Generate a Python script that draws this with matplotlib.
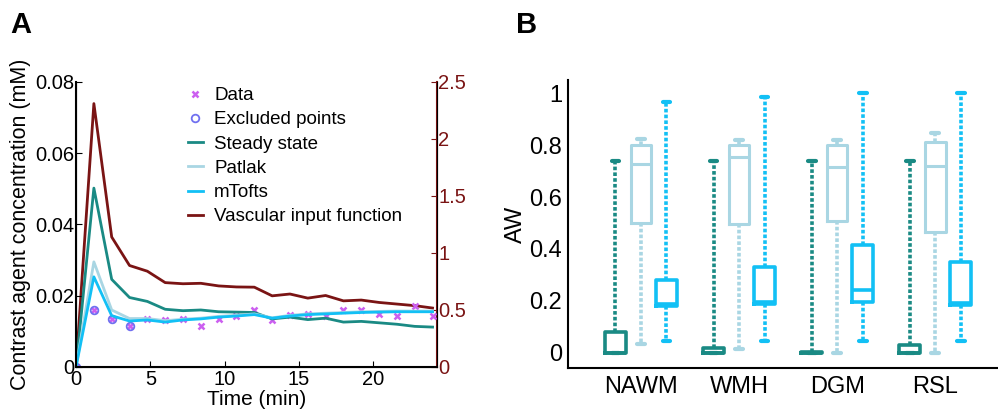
import matplotlib.pyplot as plt

plt.rcParams['font.family'] = ['Liberation Sans', 'DejaVu Sans']

# ---- panel A data ----
time = [0, 1.2, 2.4, 3.6, 4.8, 6.0, 7.2, 8.4, 9.6, 10.8, 12.0,
        13.2, 14.4, 15.6, 16.8, 18.0, 19.2, 20.4, 21.6, 22.8, 24.0]
data = [0, 0.0161, 0.0134, 0.0114, 0.0135, 0.0131, 0.0135, 0.0114, 0.0135, 0.0142, 0.0161,
        0.0132, 0.0147, 0.0150, 0.0142, 0.0161, 0.0161, 0.0149, 0.0142, 0.0172, 0.0142]
excl_time = [0, 1.2, 2.4, 3.6]
excl_vals = [0, 0.0161, 0.0134, 0.0114]
steady = [0, 0.0502, 0.0246, 0.0195, 0.0184, 0.0162, 0.0158, 0.0160, 0.0155, 0.0154, 0.0153,
          0.0135, 0.0140, 0.0133, 0.0137, 0.0126, 0.0128, 0.0124, 0.0120, 0.0114, 0.0112]
patlak = [0, 0.0295, 0.0160, 0.0136, 0.0136, 0.0130, 0.0134, 0.0137, 0.0142, 0.0145, 0.0149,
          0.0138, 0.0145, 0.0149, 0.0151, 0.0153, 0.0155, 0.0156, 0.0157, 0.0157, 0.0157]
mtofts = [0, 0.0253, 0.0144, 0.0129, 0.0132, 0.0126, 0.0132, 0.0135, 0.0140, 0.0143, 0.0147,
          0.0137, 0.0143, 0.0147, 0.0149, 0.0151, 0.0153, 0.0154, 0.0155, 0.0155, 0.0155]
vif = [0, 2.31, 1.14, 0.89, 0.84, 0.74, 0.73, 0.734, 0.711, 0.702, 0.70,
       0.624, 0.64, 0.604, 0.627, 0.58, 0.587, 0.566, 0.552, 0.538, 0.517]

# ---- panel B data ----
regions = ['NAWM', 'WMH', 'DGM', 'RSL']
# (whislo, q1, med, q3, whishi)
ss_box = [(0, 0, 0, 0.08, 0.74), (0, 0, 0, 0.018, 0.74),
          (0, 0, 0, 0.004, 0.737), (0, 0, 0, 0.03, 0.74)]
patlak_box = [(0.035, 0.50, 0.727, 0.80, 0.823), (0.015, 0.497, 0.753, 0.80, 0.82),
              (0.0, 0.508, 0.714, 0.80, 0.818), (0.0, 0.467, 0.72, 0.81, 0.846)]
mtofts_box = [(0.047, 0.18, 0.19, 0.28, 0.965), (0.047, 0.188, 0.195, 0.33, 0.985),
              (0.047, 0.195, 0.244, 0.415, 1.0), (0.047, 0.186, 0.192, 0.35, 1.0)]

teal = '#1a8a84'
light = '#a9d6e3'
blue = '#12c0f5'
red = '#7a1414'
violet = '#cc5ff0'
circ = '#7070f0'

fig = plt.figure(figsize=(9.98, 4.09), dpi=100)

# Panel A
ax = fig.add_axes([0.0762, 0.1027, 0.3617, 0.697])
ax2 = ax.twinx()
ax.set_zorder(ax2.get_zorder() + 1)
ax.patch.set_visible(False)

ax2.plot(time, vif, color=red, lw=2, label='Vascular input function')
ax.plot(time, data, 'x', color=violet, ms=5, mew=1.8, label='Data')
ax.plot(excl_time, excl_vals, 'o', mfc='none', mec=circ, ms=5.5, mew=1.3, label='Excluded points')
ax.plot(time, steady, color=teal, lw=2, label='Steady state')
ax.plot(time, patlak, color=light, lw=2, label='Patlak')
ax.plot(time, mtofts, color=blue, lw=2, label='mTofts')

ax.set_xlim(0, 24.3)
ax.set_ylim(0, 0.08)
ax2.set_ylim(0, 2.5)
ax.set_xticks([0, 5, 10, 15, 20])
ax.set_yticks([0, 0.02, 0.04, 0.06, 0.08])
ax.set_yticklabels(['0', '0.02', '0.04', '0.06', '0.08'])
ax2.set_yticks([0, 0.5, 1, 1.5, 2, 2.5])
ax2.set_yticklabels(['0', '0.5', '1', '1.5', '2', '2.5'])
ax.tick_params(direction='in', labelsize=14.5, length=4, pad=1)
ax.tick_params(axis='x', pad=2)
ax2.tick_params(direction='in', labelsize=14.5, length=4, pad=1, colors=red)
for a in (ax, ax2):
    a.spines['top'].set_visible(False)
ax2.spines['right'].set_color(red)
ax2.spines['right'].set_linewidth(1.5)
ax.spines['left'].set_linewidth(1.5)
ax.spines['bottom'].set_linewidth(1.5)
ax.set_xlabel('Time (min)', fontsize=15, labelpad=1)
ax.set_ylabel('Contrast agent concentration (mM)', fontsize=15.5, labelpad=3)

h1, l1 = ax.get_legend_handles_labels()
h2, l2 = ax2.get_legend_handles_labels()
ax.legend(h1 + h2, l1 + l2, frameon=False, fontsize=13.5, loc='upper left',
          bbox_to_anchor=(0.31, 0.982), handlelength=0.8, labelspacing=0.38,
          handletextpad=0.6, borderaxespad=0, borderpad=0)

# Panel B
bx = fig.add_axes([0.569, 0.1002, 0.431, 0.704])
for sets, off, col, lw in [(ss_box, -0.26, teal, 2.6), (patlak_box, 0, light, 2.2),
                           (mtofts_box, 0.26, blue, 2.6)]:
    stats = []
    for s in sets:
        stats.append(dict(whislo=s[0], q1=s[1], med=s[2], q3=s[3], whishi=s[4], fliers=[]))
    pos = [i + 1 + off for i in range(len(regions))]
    bx.bxp(stats, positions=pos, widths=0.21, showfliers=False, capwidths=0.08,
           boxprops=dict(color=col, lw=lw, solid_joinstyle='round'),
           medianprops=dict(color=col, lw=lw),
           whiskerprops=dict(color=col, lw=2.6, linestyle=(0, (1, 0.6))),
           capprops=dict(color=col, lw=3, solid_capstyle='round'))

bx.set_xlim(0.255, 4.64)
bx.set_ylim(-0.058, 1.05)
bx.set_xticks([1, 2, 3, 4])
bx.set_xticklabels(regions)
bx.set_yticks([0, 0.2, 0.4, 0.6, 0.8, 1])
bx.set_yticklabels(['0', '0.2', '0.4', '0.6', '0.8', '1'])
bx.tick_params(length=0, labelsize=17, pad=4)
bx.tick_params(axis='x', pad=6)
bx.spines['top'].set_visible(False)
bx.spines['right'].set_visible(False)
bx.spines['left'].set_linewidth(1.5)
bx.spines['bottom'].set_linewidth(1.5)
bx.set_ylabel('AW', fontsize=17, labelpad=2)

fig.text(0.010, 0.92, 'A', fontsize=21, fontweight='bold')
fig.text(0.517, 0.92, 'B', fontsize=21, fontweight='bold')

fig.savefig('out.png', dpi=100)
